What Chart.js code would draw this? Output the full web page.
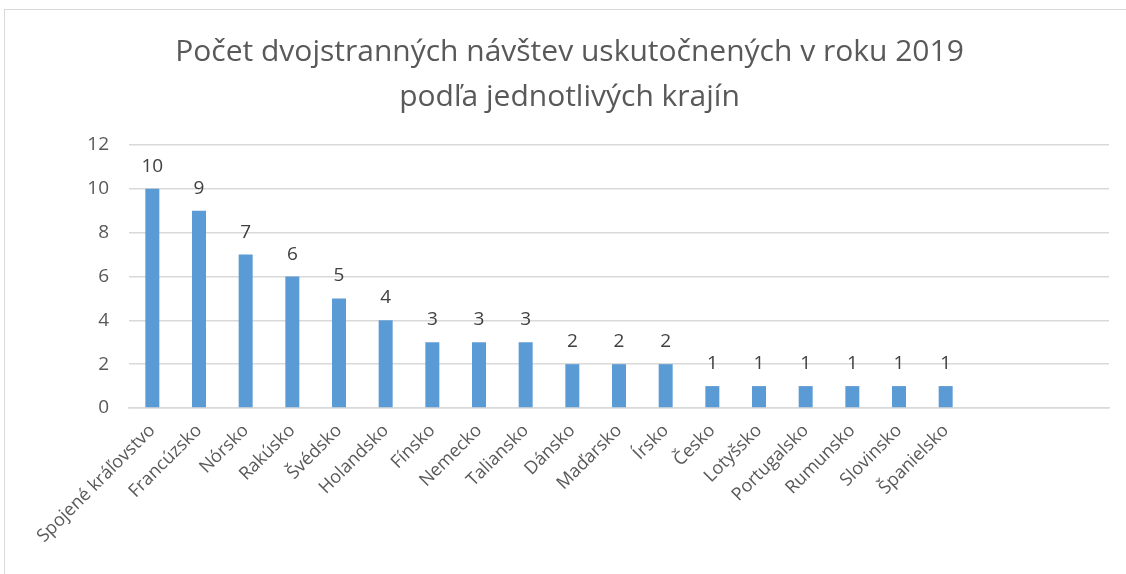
<!DOCTYPE html>
<html>
<head>
<meta charset="utf-8">
<script src="https://cdn.jsdelivr.net/npm/chart.js@4/dist/chart.umd.min.js"></script>
<style>
  html, body { margin: 0; padding: 0; background: #fff; }
  #wrap { position: relative; width: 1126px; height: 574px; }
  #frame { position: absolute; left: 4px; top: 9px; width: 1125px; height: 566px; border: 1px solid #d9d9d9; pointer-events: none; box-sizing: border-box; }
</style>
</head>
<body>
<div id="wrap">
  <canvas id="visits-chart" width="1126" height="574"></canvas>
  <div id="frame"></div>
</div>
<script>
// Bilateral visits in 2019 by country
const titleLines = ['Počet dvojstranných návštev uskutočnených v roku 2019', 'podľa jednotlivých krajín'];
const countries = ['Spojené kráľovstvo', 'Francúzsko', 'Nórsko', 'Rakúsko', 'Švédsko', 'Holandsko',
  'Fínsko', 'Nemecko', 'Taliansko', 'Dánsko', 'Maďarsko', 'Írsko', 'Česko', 'Lotyšsko',
  'Portugalsko', 'Rumunsko', 'Slovinsko', 'Španielsko'];
const emptySlots = ['', '', ''];
const visits = [10, 9, 7, 6, 5, 4, 3, 3, 3, 2, 2, 2, 1, 1, 1, 1, 1, 1];
const yTicks = [0, 2, 4, 6, 8, 10, 12];

const FONT = "'Open Sans', sans-serif";

// draws value labels above bars
const valueLabels = {
  id: 'valueLabels',
  afterDatasetsDraw(chart) {
    const ctx = chart.ctx;
    const meta = chart.getDatasetMeta(0);
    ctx.save();
    ctx.font = '19px ' + FONT;
    ctx.fillStyle = '#404040';
    ctx.textAlign = 'center';
    ctx.textBaseline = 'alphabetic';
    meta.data.forEach((bar, i) => {
      const v = visits[i];
      if (v === undefined) return;
      ctx.fillText(String(v), bar.x, bar.y - 17);
    });
    ctx.restore();
  }
};

new Chart(document.getElementById('visits-chart'), {
  type: 'bar',
  data: {
    labels: countries.concat(emptySlots),
    datasets: [{
      data: visits,
      backgroundColor: '#5b9bd5',
      categoryPercentage: 1,
      barPercentage: 0.3,
    }],
  },
  options: {
    responsive: false,
    animation: false,
    layout: { padding: { left: 30, right: 17, top: 0, bottom: 0 } },
    plugins: {
      legend: { display: false },
      tooltip: { enabled: false },
      title: {
        display: true,
        text: titleLines,
        color: '#595959',
        font: { family: FONT, size: 30, weight: 'normal', lineHeight: 1.5 },
        padding: { top: 30, bottom: 25 },
      },
    },
    scales: {
      x: {
        grid: { display: false },
        border: { color: '#d9d9d9', width: 1.5 },
        ticks: { color: '#595959', font: { family: FONT, size: 18 }, minRotation: 45, maxRotation: 45, autoSkip: false, padding: 4 },
        afterFit: s => { s.height = 166; },
      },
      y: {
        min: 0, max: 12,
        afterBuildTicks: s => { s.ticks = yTicks.map(v => ({ value: v })); },
        grid: { color: '#d9d9d9', lineWidth: 1.5, drawTicks: false },
        border: { display: false },
        ticks: { color: '#595959', font: { family: FONT, size: 19 }, padding: 20 },
        afterFit: s => { s.width = 99; },
      },
    },
  },
  plugins: [valueLabels],
});
</script>
</body>
</html>
